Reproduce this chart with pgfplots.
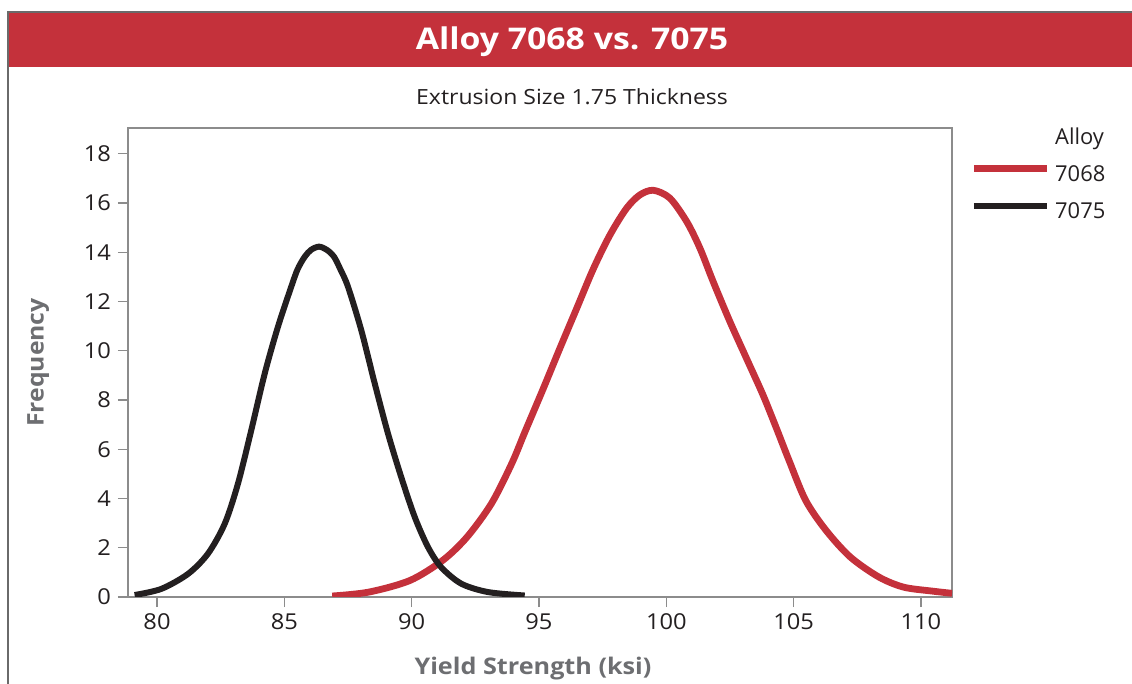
\documentclass[border=0pt]{standalone}
\usepackage{fontspec}
\setmainfont{Open Sans}
\usepackage{graphicx}
\usepackage{pgfplots}
\pgfplotsset{compat=1.18}

\definecolor{alred}{HTML}{C4313B}
\definecolor{alblack}{HTML}{231F20}
\definecolor{axgray}{HTML}{8C8C8C}
\definecolor{labgray}{HTML}{6D6E71}
\definecolor{framegray}{HTML}{6A6A6A}

\begin{document}
\begin{tikzpicture}
\useasboundingbox (0,0) rectangle (566bp,342bp);
% frame and title banner
\fill[alred] (4bp,308.5bp) rectangle (566bp,335.5bp);
\draw[framegray, line width=1bp] (4bp,0bp) -- (4bp,336bp) -- (566bp,336bp);
\node[white, font=\fontsize{15}{17}\selectfont\bfseries] at (286bp,321bp) {\scalebox{1.13}[1]{Alloy 7068 vs. 7075}};
\node[alblack, font=\fontsize{10.5}{12}\selectfont] at (286bp,293.5bp) {\scalebox{1.1}[1]{Extrusion Size 1.75 Thickness}};

\begin{axis}[
  at={(64bp,43.5bp)}, anchor=south west,
  width=412bp, height=234.5bp, scale only axis,
  xmin=78.86, xmax=111.22, ymin=0, ymax=19.05,
  xtick={80,85,...,110}, ytick={0,2,...,18},
  xtick pos=bottom, ytick pos=left,
  tick align=outside, major tick length=5bp,
  axis line style={axgray, line width=0.8bp},
  every tick/.style={axgray, line width=0.6bp},
  tick label style={alblack, font=\fontsize{11}{12}\selectfont},
  /pgf/number format/assume math mode=true,
  xticklabel={\scalebox{1.08}[1]{\pgfmathprintnumber{\tick}}},
  yticklabel={\scalebox{1.08}[1]{\pgfmathprintnumber{\tick}}},
  xlabel={\scalebox{1.1}[1]{Yield Strength (ksi)}},
  ylabel={\scalebox{1.08}[1]{Frequency}},
  label style={labgray, font=\fontsize{11.5}{13}\selectfont\bfseries},
  xlabel style={at={(axis description cs:0.4915,-0.153)}, anchor=center},
  ylabel style={at={(axis description cs:-0.109,0.5)}, anchor=center},
  clip=true,
  legend cell align=left,
  legend style={at={(1.0218,1.0)}, anchor=north west, draw=none, fill=none,
    inner xsep=0pt, inner ysep=0pt, row sep=8bp,
    font=\fontsize{11}{12}\selectfont, text=alblack,
    nodes={inner xsep=0pt, inner ysep=0pt, text height=8bp, text depth=2.5bp},
    /tikz/every odd column/.append style={column sep=2.5bp}},
  legend image code/.code={\draw[#1] (0bp,3.8bp) -- (36.5bp,3.8bp);},
]
\addlegendimage{empty legend}
\addlegendentry{Alloy}

\addplot[alred, line width=3.4bp, smooth] coordinates {
(86.88,0.04) (88.32,0.20) (89.93,0.67) (91.21,1.48) (92.17,2.43)
(93.13,3.79) (93.93,5.42) (94.45,6.71) (95.17,8.47) (95.82,10.10)
(96.48,11.72) (97.13,13.32) (97.79,14.71) (98.44,15.79) (98.96,16.33)
(99.49,16.52) (100.14,16.20) (100.80,15.25) (101.32,14.17) (101.84,12.81)
(102.50,11.18) (103.15,9.69) (103.80,8.20) (104.33,6.84) (104.80,5.60)
(105.47,3.93) (106.27,2.71) (107.23,1.62) (108.35,0.81) (109.32,0.40)
(110.44,0.24) (111.22,0.15)
};
\addlegendentry{7068}

\addplot[alblack, line width=3bp, smooth] coordinates {
(79.12,0.08) (80.17,0.33) (81.22,0.94) (82.00,1.76) (82.66,2.98)
(83.18,4.61) (83.70,6.77) (84.23,9.08) (84.75,10.98) (85.27,12.60)
(85.52,13.31) (85.80,13.82) (86.05,14.10) (86.36,14.23) (86.67,14.10)
(86.95,13.82) (87.20,13.31) (87.50,12.60) (88.02,10.84) (88.55,8.67)
(89.07,6.64) (89.59,4.87) (90.12,3.25) (90.64,2.03) (91.16,1.21)
(91.95,0.54) (93.00,0.20) (94.44,0.06)
};
\addlegendentry{7075}
\end{axis}
\end{tikzpicture}
\end{document}
